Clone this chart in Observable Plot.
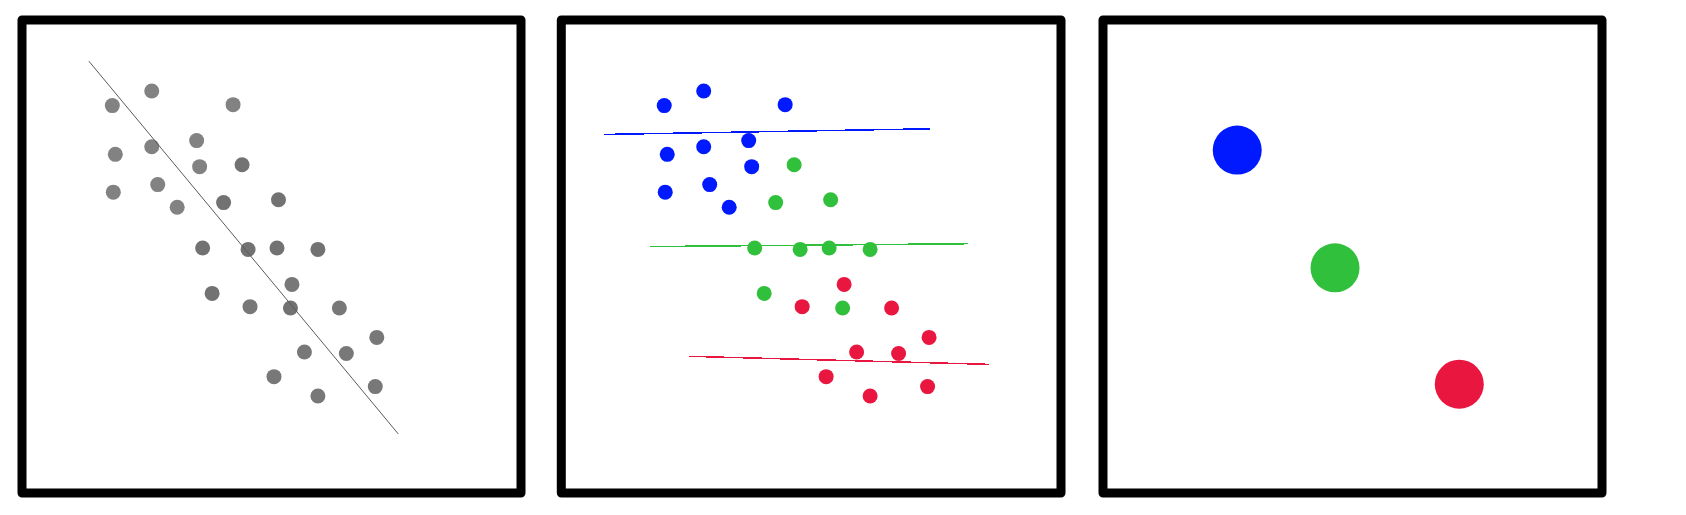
<!DOCTYPE html>
<html>
<head>
<meta charset="utf-8">
<script src="https://cdn.jsdelivr.net/npm/d3@7"></script>
<script src="https://cdn.jsdelivr.net/npm/@observablehq/plot@0.6"></script>
<style>
html, body { margin: 0; padding: 0; background: #fff; overflow: hidden; }
#wrap { position: relative; width: 1686px; height: 515px; }
#wrap > svg { position: absolute; top: 0; }
</style>
</head>
<body>
<div id="wrap"></div>
<script>
// ---- data ----
const groups = ["A", "B", "C"];
const groupColors = ["#0019ff", "#31c03c", "#e91640"];
const groupGreys = ["#828282", "#727272", "#787878"];

const pointX = [26.0, 18.1, 42.3, 35.0, 26.0, 18.7, 35.6, 44.1, 27.2, 18.3, 31.1, 40.4, 51.4, 36.2,
                45.3, 51.1, 59.3, 54.1, 38.1, 45.7, 53.8, 63.6, 71.1, 56.6, 65.0, 50.5, 70.8, 59.3];
const pointY = [85.0, 81.9, 82.1, 74.5, 73.2, 71.6, 69.0, 69.4, 65.2, 63.6, 60.4, 61.4, 62.0, 51.8,
                51.5, 51.8, 51.5, 44.1, 42.2, 39.4, 39.1, 39.1, 32.9, 29.8, 29.5, 24.6, 22.5, 20.5];
const pointGroup = ["A", "A", "A", "A", "A", "A", "A", "B", "A", "A", "A", "B", "B", "B",
                    "B", "B", "B", "C", "B", "C", "B", "C", "C", "C", "C", "C", "C", "C"];

// overall trend line (panel 1)
const overallX1 = [13.4], overallY1 = [91.3], overallX2 = [75.4], overallY2 = [12.5];

// per-group trend lines (panel 2)
const trendX1 = [6.0, 15.3, 23.0];
const trendY1 = [75.8, 52.1, 28.9];
const trendX2 = [71.2, 78.8, 83.0];
const trendY2 = [77.0, 52.7, 27.2];

// group summary dots (panel 3)
const meanX = [26.9, 46.5, 71.4];
const meanY = [72.5, 47.6, 23.0];

// ---- tables ----
const points = pointX.map((x, i) => ({x, y: pointY[i], group: pointGroup[i]}));
const overall = overallX1.map((x1, i) => ({x1, y1: overallY1[i], x2: overallX2[i], y2: overallY2[i]}));
const trends = groups.map((g, i) => ({group: g, x1: trendX1[i], y1: trendY1[i], x2: trendX2[i], y2: trendY2[i]}));
const means = groups.map((g, i) => ({group: g, x: meanX[i], y: meanY[i]}));

const wrap = document.getElementById("wrap");
const frame = () => Plot.frame({stroke: "black", strokeWidth: 9, strokeLinejoin: "round"});
const common = {height: 515, marginTop: 19.5, marginBottom: 22.5, style: {background: "transparent"}};

// Panel 1
const p1 = Plot.plot({
  ...common, width: 540, marginLeft: 21.5, marginRight: 19.5,
  x: {domain: [0, 100], axis: null},
  y: {domain: [0, 100], axis: null},
  color: {domain: groups, range: groupGreys},
  marks: [
    Plot.dot(points, {x: "x", y: "y", fill: "group", r: 7.5}),
    Plot.link(overall, {x1: "x1", y1: "y1", x2: "x2", y2: "y2", stroke: "#5a5a5a", strokeWidth: 1}),
    frame()
  ]
});
p1.style.left = "0px";
wrap.appendChild(p1);

// Panel 2
const p2 = Plot.plot({
  ...common, width: 540, marginLeft: 20.8, marginRight: 19.5,
  x: {domain: [-2.5, 97.5], axis: null},
  y: {domain: [0, 100], axis: null},
  color: {domain: groups, range: groupColors},
  marks: [
    Plot.link(trends, {x1: "x1", y1: "y1", x2: "x2", y2: "y2", stroke: "group", strokeWidth: 1.5, shapeRendering: "crispEdges"}),
    Plot.dot(points, {x: "x", y: "y", fill: "group", r: 7.5}),
    frame()
  ]
});
p2.style.left = "540px";
wrap.appendChild(p2);

// Panel 3
const p3 = Plot.plot({
  ...common, width: 606, marginLeft: 22.5, marginRight: 84.5,
  x: {domain: [0, 100], axis: null},
  y: {domain: [0, 100], axis: null},
  color: {domain: groups, range: groupColors},
  marks: [
    Plot.dot(means, {x: "x", y: "y", fill: "group", r: 24.5}),
    frame()
  ]
});
p3.style.left = "1080px";
wrap.appendChild(p3);
</script>
</body>
</html>
